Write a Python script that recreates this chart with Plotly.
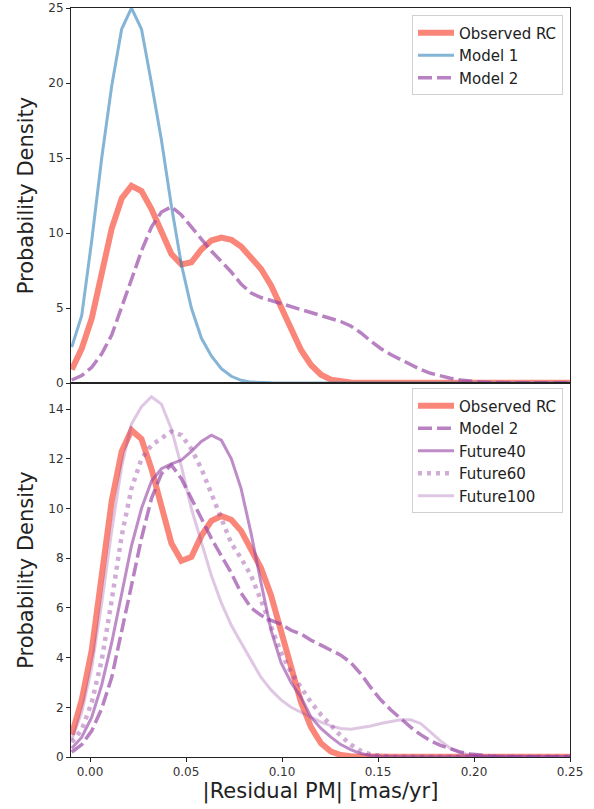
import plotly.graph_objects as go

# KDE evaluation grid (|Residual PM| in mas/yr)
x_grid = [-0.0095, -0.0043, 0.0009, 0.0061, 0.0113, 0.0165, 0.0216, 0.0268, 0.0320, 0.0372,
          0.0424, 0.0476, 0.0528, 0.0580, 0.0632, 0.0684, 0.0736, 0.0787, 0.0839, 0.0891,
          0.0943, 0.0995, 0.1047, 0.1099, 0.1151, 0.1203, 0.1255, 0.1306, 0.1358, 0.1410,
          0.1462, 0.1514, 0.1566, 0.1618, 0.1670, 0.1722, 0.1774, 0.1825, 0.1877, 0.1929,
          0.1981, 0.2033, 0.2085, 0.2137, 0.2189, 0.2241, 0.2293, 0.2344, 0.2396, 0.2448, 0.2500]

observed_rc = [0.9, 2.3, 4.3, 7.2, 10.3, 12.3, 13.15, 12.8, 11.6, 10.1,
               8.6, 7.9, 8.05, 8.9, 9.5, 9.7, 9.55, 9.1, 8.4, 7.6,
               6.5, 5.1, 3.5, 2.2, 1.2, 0.55, 0.22, 0.08, 0.03, 0.01,
               0.01, 0.01, 0.01, 0.01, 0.01, 0.01, 0.01, 0.01, 0.01, 0.01,
               0.01, 0.01, 0.01, 0.01, 0.01, 0.01, 0.01, 0.01, 0.01, 0.01, 0.01]

model_1 = [2.4, 4.5, 9.5, 15.0, 19.8, 23.6, 25.0, 23.6, 20.0, 16.2,
           11.8, 7.9, 5.0, 3.0, 1.8, 0.95, 0.45, 0.18, 0.06, 0.02,
           0.01, 0.0, 0.0, 0.0, 0.0, 0.0, 0.0, 0.0, 0.0, 0.0,
           0.0, 0.0, 0.0, 0.0, 0.0, 0.0, 0.0, 0.0, 0.0, 0.0,
           0.0, 0.0, 0.0, 0.0, 0.0, 0.0, 0.0, 0.0, 0.0, 0.0, 0.0]

model_2 = [0.2, 0.5, 1.05, 1.95, 3.2, 5.0, 6.9, 8.8, 10.4, 11.4,
           11.75, 11.2, 10.4, 9.6, 8.8, 8.1, 7.4, 6.6, 6.0, 5.7,
           5.5, 5.35, 5.1, 4.95, 4.7, 4.5, 4.3, 4.1, 3.8, 3.35,
           2.8, 2.3, 1.9, 1.55, 1.2, 0.9, 0.65, 0.47, 0.32, 0.2,
           0.12, 0.07, 0.04, 0.02, 0.01, 0.01, 0.01, 0.01, 0.01, 0.01, 0.01]

future40 = [0.35, 0.8, 1.6, 2.9, 4.6, 6.6, 8.5, 10.0, 11.1, 11.6,
            11.8, 11.95, 12.3, 12.7, 12.95, 12.75, 12.0, 10.8, 9.0, 7.0,
            5.1, 3.8, 3.0, 2.4, 1.6, 1.15, 0.8, 0.5, 0.3, 0.14,
            0.06, 0.03, 0.01, 0.01, 0.01, 0.01, 0.01, 0.01, 0.01, 0.01,
            0.01, 0.01, 0.01, 0.01, 0.01, 0.01, 0.01, 0.01, 0.01, 0.01, 0.01]

future60 = [0.6, 1.1, 2.2, 3.9, 6.3, 8.9, 10.8, 12.0, 12.55, 12.85,
            13.1, 12.95, 12.4, 11.6, 10.6, 9.5, 8.6, 8.0, 7.3, 6.3,
            5.2, 4.2, 3.4, 2.8, 2.2, 1.7, 1.25, 0.85, 0.5, 0.25,
            0.1, 0.04, 0.01, 0.01, 0.01, 0.01, 0.01, 0.01, 0.01, 0.01,
            0.01, 0.01, 0.01, 0.01, 0.01, 0.01, 0.01, 0.01, 0.01, 0.01, 0.01]

future100 = [0.7, 1.8, 3.6, 6.2, 9.1, 11.7, 13.4, 14.1, 14.5, 14.2,
             13.2, 11.7, 10.0, 8.6, 7.3, 6.2, 5.3, 4.6, 3.9, 3.2,
             2.7, 2.3, 2.0, 1.8, 1.6, 1.4, 1.25, 1.15, 1.12, 1.17,
             1.25, 1.35, 1.43, 1.5, 1.5, 1.35, 1.0, 0.65, 0.35, 0.17,
             0.07, 0.03, 0.01, 0.01, 0.01, 0.01, 0.01, 0.01, 0.01, 0.01, 0.01]

x_tick_vals = [0.0, 0.05, 0.10, 0.15, 0.20, 0.25]
x_tick_text = ["0.00", "0.05", "0.10", "0.15", "0.20", "0.25"]
top_y_ticks = [0, 5, 10, 15, 20, 25]
bottom_y_ticks = [0, 2, 4, 6, 8, 10, 12, 14]

SALMON = "rgba(250,128,114,0.95)"
BLUE = "rgba(31,119,180,0.55)"
PURPLE_DASH = "rgba(150,70,165,0.68)"
PURPLE_F40 = "rgba(150,70,165,0.62)"
PURPLE_F60 = "rgba(150,70,165,0.45)"
PURPLE_F100 = "rgba(150,70,165,0.3)"

fig = go.Figure()

# top panel
fig.add_trace(go.Scatter(x=x_grid, y=observed_rc, mode="lines", name="Observed RC",
                         line=dict(color=SALMON, width=6), xaxis="x", yaxis="y", legend="legend"))
fig.add_trace(go.Scatter(x=x_grid, y=model_1, mode="lines", name="Model 1",
                         line=dict(color=BLUE, width=3), xaxis="x", yaxis="y", legend="legend"))
fig.add_trace(go.Scatter(x=x_grid, y=model_2, mode="lines", name="Model 2",
                         line=dict(color=PURPLE_DASH, width=3.5, dash="14px,5px"),
                         xaxis="x", yaxis="y", legend="legend"))

# bottom panel
fig.add_trace(go.Scatter(x=x_grid, y=observed_rc, mode="lines", name="Observed RC",
                         line=dict(color=SALMON, width=6), xaxis="x2", yaxis="y2", legend="legend2"))
fig.add_trace(go.Scatter(x=x_grid, y=model_2, mode="lines", name="Model 2",
                         line=dict(color=PURPLE_DASH, width=3.5, dash="14px,5px"),
                         xaxis="x2", yaxis="y2", legend="legend2"))
fig.add_trace(go.Scatter(x=x_grid, y=future40, mode="lines", name="Future40",
                         line=dict(color=PURPLE_F40, width=3), xaxis="x2", yaxis="y2", legend="legend2"))
fig.add_trace(go.Scatter(x=x_grid, y=future60, mode="lines", name="Future60",
                         line=dict(color=PURPLE_F60, width=4.5, dash="4px,5px"),
                         xaxis="x2", yaxis="y2", legend="legend2"))
fig.add_trace(go.Scatter(x=x_grid, y=future100, mode="lines", name="Future100",
                         line=dict(color=PURPLE_F100, width=3), xaxis="x2", yaxis="y2", legend="legend2"))

split = 0.4993
axis_common = dict(showline=True, linecolor="#222", linewidth=1, mirror=True,
                   showgrid=False, zeroline=False, ticklen=4, automargin=False,
                   tickcolor="#222", tickfont=dict(size=12, color="#333"))

legend_common = dict(bgcolor="rgba(255,255,255,0.85)", bordercolor="#d0d0d0", borderwidth=1,
                     font=dict(size=15, color="#222", family="DejaVu Sans"),
                     xanchor="right", yanchor="top", tracegroupgap=0, itemwidth=36)

fig.update_layout(
    width=594, height=809,
    margin=dict(l=71, r=24, t=8, b=52, autoexpand=False),
    paper_bgcolor="white", plot_bgcolor="white",
    font=dict(family="DejaVu Sans", color="#222"),
    xaxis=dict(domain=[0, 1], anchor="y", range=[-0.0099, 0.25], showticklabels=False,
               ticks="", **axis_common),
    yaxis=dict(domain=[split, 1], anchor="x", range=[0, 25], tickvals=top_y_ticks, ticks="outside",
               title=dict(text="Probability Density", font=dict(size=21), standoff=8),
               **axis_common),
    xaxis2=dict(domain=[0, 1], anchor="y2", range=[-0.0099, 0.25], matches="x", ticks="outside",
                tickvals=x_tick_vals, ticktext=x_tick_text,
                title=dict(text="|Residual PM| [mas/yr]", font=dict(size=21), standoff=2),
                **axis_common),
    yaxis2=dict(domain=[0, split], anchor="x2", range=[0, 15.05], tickvals=bottom_y_ticks,
                ticks="outside",
                title=dict(text="Probability Density", font=dict(size=21), standoff=8),
                **axis_common),
    legend=dict(x=0.986, y=0.99, **legend_common),
    legend2=dict(x=0.986, y=0.492, **legend_common),
    showlegend=True,
)

fig.write_html("out.html", config={"displayModeBar": False},
               post_script="document.body.style.margin='0px';document.body.style.overflow='hidden';")
